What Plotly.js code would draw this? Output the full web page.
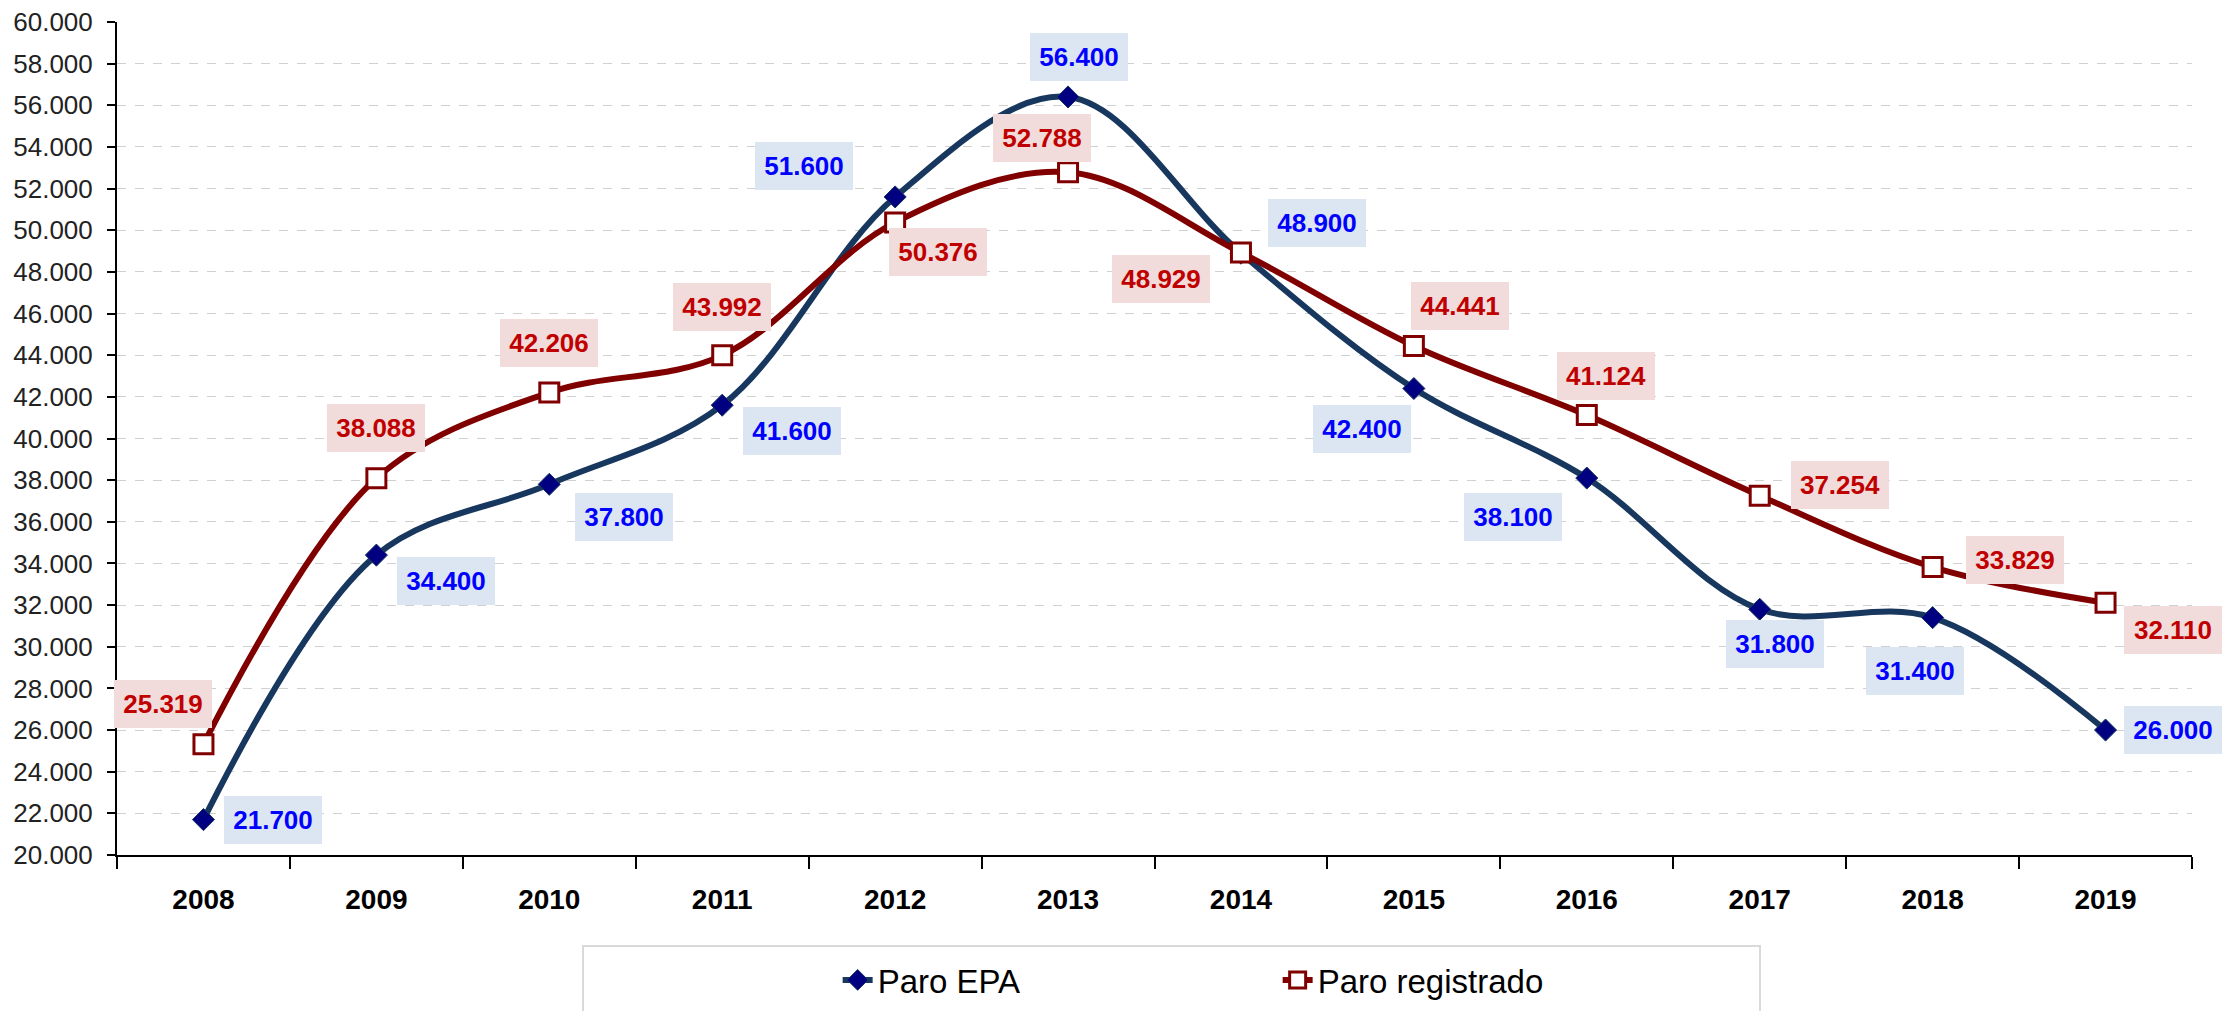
<!DOCTYPE html>
<html>
<head>
<meta charset="utf-8">
<script src="https://cdn.plot.ly/plotly-3.0.1.min.js"></script>
<style>
  html, body { margin: 0; padding: 0; background: #ffffff; }
  #chart { width: 2231px; height: 1011px; }
</style>
</head>
<body>
<div id="chart"></div>
<script>
// ---- Data ----
var years = ['2008', '2009', '2010', '2011', '2012', '2013', '2014', '2015', '2016', '2017', '2018', '2019'];
var paroEPA = [21700, 34400, 37800, 41600, 51600, 56400, 48900, 42400, 38100, 31800, 31400, 26000];
var paroRegistrado = [25319, 38088, 42206, 43992, 50376, 52788, 48929, 44441, 41124, 37254, 33829, 32110];
var seriesNames = ['Paro EPA', 'Paro registrado'];

// ---- Label placement (pixel shifts relative to each point) ----
var epaShift = [[70, 0], [70, -26], [75, -33], [70, -26], [-91, 31], [11, 40], [76, 30], [-52, -40], [-74, -39], [15, -35], [-18, -53], [67, 0]];
var regShift = [[-40, 40], [0, 50], [0, 50], [0, 48], [43, -30], [-26, 34], [-80, -26], [46, 40], [19, 39], [80, 11], [82, 7], [67, -27]];

var FONT = '"Liberation Sans", Arial, sans-serif';

function fmt(v) {
  return String(Math.round(v)).replace(/\B(?=(\d{3})+(?!\d))/g, '.');
}

var traces = [
  {
    type: 'scatter', mode: 'lines+markers', name: seriesNames[0],
    x: years, y: paroEPA,
    line: { color: '#17375e', width: 6, shape: 'spline', smoothing: 1 },
    marker: { symbol: 'diamond', size: 17, color: '#000080', line: { color: '#17375e', width: 1 } },
    cliponaxis: false
  },
  {
    type: 'scatter', mode: 'lines+markers', name: seriesNames[1],
    x: years, y: paroRegistrado,
    line: { color: '#800000', width: 6, shape: 'spline', smoothing: 1 },
    marker: { symbol: 'square', size: 19, color: '#ffffff', line: { color: '#800000', width: 3 } },
    cliponaxis: false
  }
];

var annotations = [];
function addLabels(vals, shifts, textColor, bg) {
  for (var i = 0; i < vals.length; i++) {
    annotations.push({
      x: i, y: vals[i], xref: 'x', yref: 'y',
      text: '<b>' + fmt(vals[i]) + '</b>', showarrow: false,
      xshift: shifts[i][0], yshift: shifts[i][1],
      bgcolor: bg, borderpad: 2, borderwidth: 0,
      width: 94, height: 44,
      font: { family: FONT, size: 26, color: textColor }
    });
  }
}
addLabels(paroEPA, epaShift, '#0000ff', '#dce6f2');
addLabels(paroRegistrado, regShift, '#c00000', '#f2dcdb');

var layout = {
  width: 2231, height: 1011,
  margin: { l: 117, r: 39, t: 22, b: 156, autoexpand: false },
  paper_bgcolor: '#ffffff', plot_bgcolor: '#ffffff',
  separators: ',.',
  showlegend: true,
  font: { family: FONT, color: '#000000' },
  xaxis: {
    type: 'category',
    tickson: 'boundaries',
    ticks: 'outside', ticklen: 12, tickwidth: 2, tickcolor: '#000000',
    ticklabelstandoff: 18,
    showline: true, linecolor: '#000000', linewidth: 2,
    showgrid: false, zeroline: false,
    tickfont: { family: FONT, size: 28, color: '#000000', weight: 'bold' },
    range: [-0.5, 11.5]
  },
  yaxis: {
    range: [20000, 60000], dtick: 2000, tick0: 20000,
    tickformat: ',.0f',
    ticks: 'outside', ticklen: 8, tickwidth: 2, tickcolor: '#000000',
    ticklabelstandoff: 9,
    showline: true, linecolor: '#000000', linewidth: 2,
    showgrid: true, gridcolor: '#d0d0d0', gridwidth: 1, griddash: 'dash',
    zeroline: false,
    tickfont: { family: FONT, size: 26, color: '#222222' }
  },
  legend: {
    orientation: 'h',
    x: 0.3473, xanchor: 'left',
    y: -0.15, yanchor: 'middle',
    bgcolor: 'rgba(0,0,0,0)', borderwidth: 0,
    font: { family: FONT, size: 33, color: '#000000' },
    entrywidth: 395, entrywidthmode: 'pixels'
  },
  shapes: [
    {
      type: 'rect', xref: 'paper', yref: 'paper',
      x0: 0.2246, x1: 0.7918, y0: -0.1092, y1: -0.30,
      line: { color: '#d9d9d9', width: 2 }, fillcolor: 'rgba(0,0,0,0)', layer: 'below'
    }
  ],
  annotations: annotations
};

Plotly.newPlot('chart', traces, layout, { staticPlot: true, displayModeBar: false });
</script>
</body>
</html>
